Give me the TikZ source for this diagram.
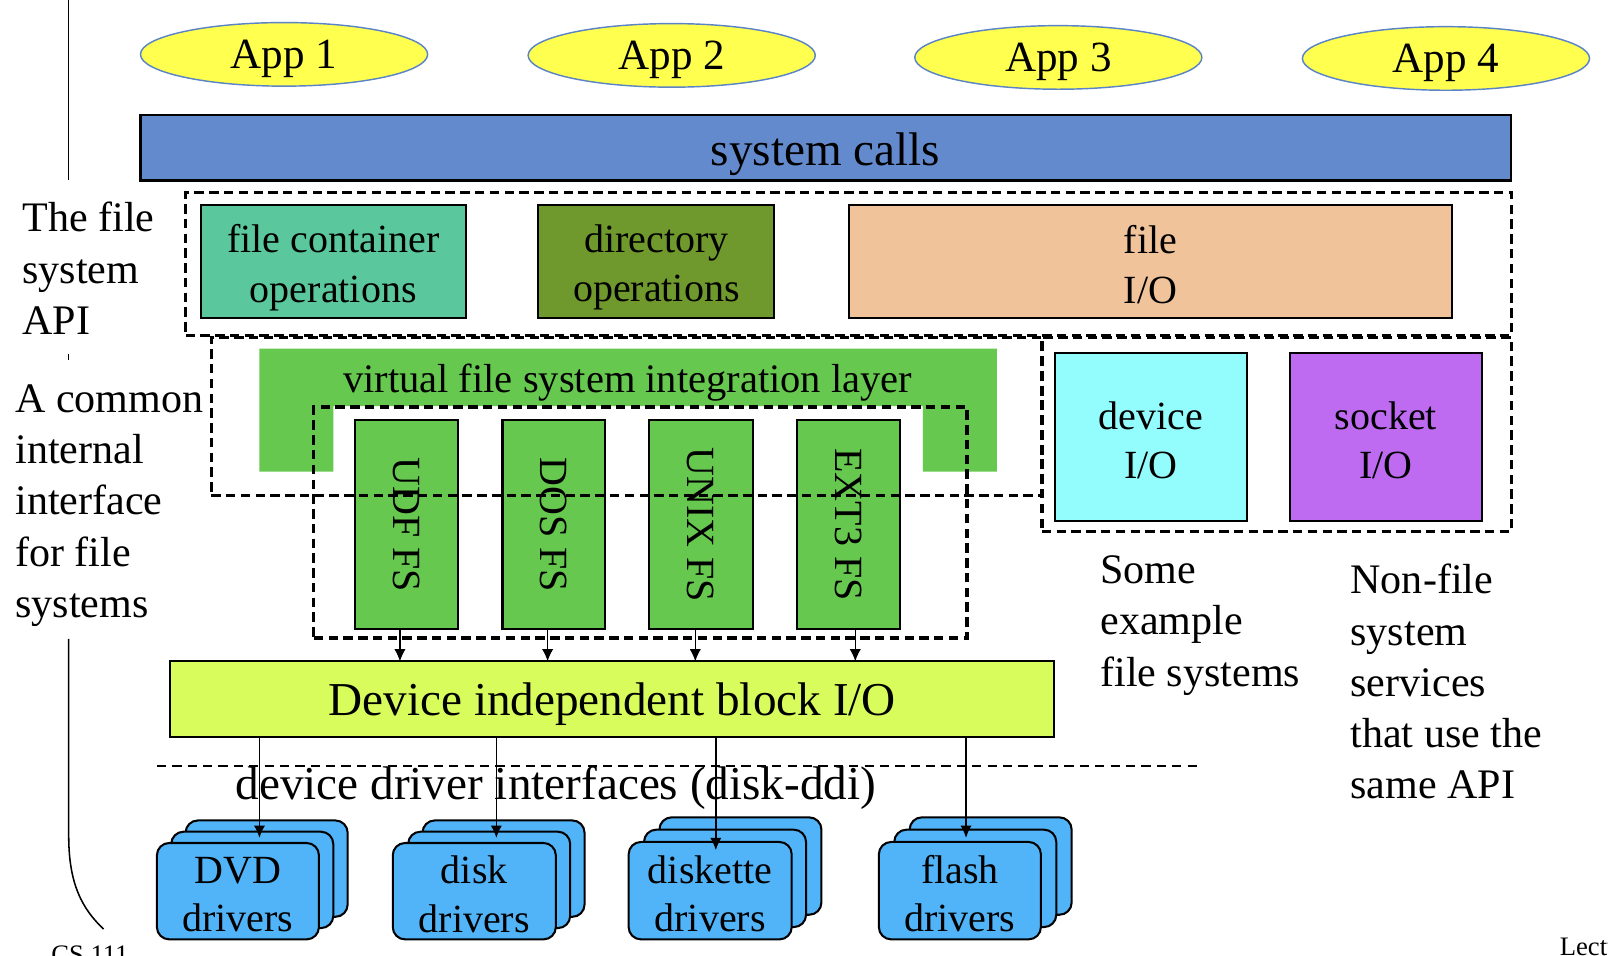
\documentclass[tikz,border=0pt]{standalone}
\usepackage{fontspec}
\setmainfont{Liberation Serif}
\usetikzlibrary{fit,shapes.geometric,arrows.meta}

\definecolor{appfill}{HTML}{FFFF50}
\definecolor{appline}{HTML}{5A84C5}
\definecolor{callfill}{HTML}{638ACD}
\definecolor{contfill}{HTML}{5AC89C}
\definecolor{dirfill}{HTML}{6F982D}
\definecolor{fiofill}{HTML}{F0C39B}
\definecolor{vfsfill}{HTML}{66C84F}
\definecolor{blockfill}{HTML}{D7FC5C}
\definecolor{devfill}{HTML}{93FCFC}
\definecolor{sockfill}{HTML}{BE6BF2}
\definecolor{drvfill}{HTML}{52B4F8}

\begin{document}
\begin{tikzpicture}[x=0.5pt,y=-0.5pt,
  every node/.style={inner sep=0pt,outer sep=0pt},
  app/.style={ellipse,draw=appline,line width=0.7pt,fill=appfill,
    minimum width=140pt,minimum height=31pt,text depth=0pt,
    font=\fontsize{21}{25}\selectfont},
  solidbox/.style={draw=black,line width=1pt},
  boxtext/.style={align=center,yshift=-3pt,font=\fontsize{19.5}{24}\selectfont},
  bigtext/.style={font=\fontsize{23}{27}\selectfont},
  dashbox/.style={draw=black,line width=1.6pt,dash pattern=on 4.6pt off 2.6pt},
  fslabel/.style={rotate=-90,font=\fontsize{19.5}{24}\selectfont},
  sidetext/.style={anchor=base west,align=left,font=\fontsize{20.5}{25}\selectfont},
  card/.style={draw=black,line width=1pt,fill=drvfill,rounded corners=6pt},
  cardtext/.style={align=center,yshift=-1.5pt,font=\fontsize{19.5}{23.5}\selectfont},
  arr/.style={line width=0.7pt,-{Latex[length=6pt,width=5.5pt]}},
  smalltext/.style={anchor=base west,font=\fontsize{13}{15}\selectfont},
]
\useasboundingbox (0,0) rectangle (1568,932);
\fill[white] (0,0) rectangle (1568,932);
\clip (0,0) rectangle (1568,932);

% side rule with its bracket end
\draw[line width=0.75pt] (67,0) -- (67,176);
\draw[line width=0.75pt] (67,345) -- (67,351);
\draw[line width=0.75pt] (67,623) -- (67,815) .. controls (67,862) and (80,886) .. (101,906);

% applications
\node[app] (app1) at (277,53) {App 1};
\node[app] (app2) at (655,54) {App 2};
\node[app] (app3) at (1032,56) {App 3};
\node[app] (app4) at (1410,57) {App 4};

% system call layer
\node[solidbox,fill=callfill,fit={(137,112) (1473,176)}] (calls) {};
\node[bigtext,yshift=-3pt] (callst) at (calls) {system calls};

% file system API
\node[solidbox,fill=contfill,fit={(196,200) (454,310)}] (cont) {};
\node[solidbox,fill=dirfill,fit={(525,200) (755,310)}] (dir) {};
\node[solidbox,fill=fiofill,fit={(828,200) (1416,310)}] (fio) {};
\node[boxtext] (contt) at (cont) {file container\\operations};
\node[boxtext] (dirt) at (dir) {directory\\operations};
\node[boxtext,yshift=1.5pt] (fiot) at (fio) {file\\I/O};

% virtual file system layer
\fill[vfsfill] (253,340) -- (972,340) -- (972,460) -- (900,460) -- (900,396)
  -- (325,396) -- (325,460) -- (253,460) -- cycle;
\node[anchor=base,font=\fontsize{19.75}{24}\selectfont] (vfs) at (612,383)
  {virtual file system integration layer};

% concrete file systems
\node[solidbox,fill=vfsfill,fit={(346,410) (447,613)}] (udf) {};
\node[solidbox,fill=vfsfill,fit={(490,410) (590,613)}] (dos) {};
\node[solidbox,fill=vfsfill,fit={(633,410) (734,613)}] (unix) {};
\node[solidbox,fill=vfsfill,fit={(777,410) (878,613)}] (ext) {};
\node[fslabel] (udft) at (udf) {UDF FS};
\node[fslabel] (dost) at (dos) {DOS FS};
\node[fslabel] (unixt) at (unix) {UNIX FS};
\node[fslabel] (extt) at (ext) {EXT3 FS};

% non-file services
\node[solidbox,fill=devfill,fit={(1029,344) (1216,508)}] (devio) {};
\node[solidbox,fill=sockfill,fit={(1258,344) (1445,508)}] (sockio) {};
\node[boxtext,yshift=1.5pt] (deviot) at (devio) {device\\I/O};
\node[boxtext,yshift=1.5pt] (sockiot) at (sockio) {socket\\I/O};

% grouping frames
\node[dashbox,fit={(181,188) (1474,327)}] (apibox) {};
\node[dashbox,fit={(206,329) (1016,483)}] (commonbox) {};
\node[dashbox,fit={(1016,329) (1474,518)}] (nonfilebox) {};
\node[dashbox,fit={(306,397) (943,622)}] (fsbox) {};

% block layer
\node[solidbox,fill=blockfill,fit={(166,645) (1028,719)}] (blk) {};
\node[bigtext,yshift=-2.5pt] (blkt) at (blk) {Device independent block I/O};

\coordinate (udfA) at (390,0);
\coordinate (dosA) at (534,0);
\coordinate (unixA) at (678,0);
\coordinate (extA) at (834,0);
\draw[arr] (udf.south -| udfA) -- (blk.north -| udfA);
\draw[arr] (dos.south -| dosA) -- (blk.north -| dosA);
\draw[arr] (unix.south -| unixA) -- (blk.north -| unixA);
\draw[arr] (ext.south -| extA) -- (blk.north -| extA);

% driver interface boundary
\coordinate (sepL) at (153,747);
\coordinate (sepR) at (1173,747);
\draw[line width=0.65pt,dash pattern=on 4.5pt off 3pt] (sepL) -- (sepR);
\node[bigtext] (ddi) at (542,768) {device driver interfaces (disk-ddi)};

% driver stacks
\node[card,fit={(181,800) (339,894)}] (dvdC) {};
\node[card,fit={(167,811) (325,905)}] (dvdB) {};
\node[card,fit={(153,822) (311,916)}] (dvd) {};
\node[cardtext] (dvdt) at (dvd) {DVD\\drivers};

\node[card,fit={(412,800) (570,894)}] (diskC) {};
\node[card,fit={(398,811) (556,905)}] (diskB) {};
\node[card,fit={(383,822) (542,916)}] (disk) {};
\node[cardtext] (diskt) at (disk) {disk\\drivers};

\node[card,fit={(643,797) (801,892)}] (dsktC) {};
\node[card,fit={(628,809) (786,904)}] (dsktB) {};
\node[card,fit={(613,821) (772,916)}] (dskt) {};
\node[cardtext] (dsktt) at (dskt) {diskette\\drivers};

\node[card,fit={(887,797) (1045,892)}] (flashC) {};
\node[card,fit={(872,809) (1030,904)}] (flashB) {};
\node[card,fit={(857,821) (1015,916)}] (flash) {};
\node[cardtext] (flasht) at (flash) {flash\\drivers};

\coordinate (dvdA) at (253,817);
\coordinate (diskA) at (484,817);
\coordinate (dsktA) at (698,829);
\coordinate (flashA) at (942,817);
\draw[arr] (blk.south -| dvdA) -- (dvdA);
\draw[arr] (blk.south -| diskA) -- (diskA);
\draw[arr] (blk.south -| dsktA) -- (dsktA);
\draw[arr] (blk.south -| flashA) -- (flashA);

% explanatory notes (anchored at the baseline of their last line)
\node[sidetext] (apinote) at (22,326) {The file\\system\\API};
\node[sidetext] (commonnote) at (15,602) {A common\\internal\\interface\\for file\\systems};
\node[sidetext] (fsnote) at (1073,669) {Some\\example\\file systems};
\node[sidetext] (nonfilenote) at (1317,779) {Non-file\\system\\services\\that use the\\same API};

% page footer
\node[smalltext] (course) at (50,940) {CS 111};
\node[smalltext] (lecture) at (1521,932) {Lecture};
\end{tikzpicture}
\end{document}
